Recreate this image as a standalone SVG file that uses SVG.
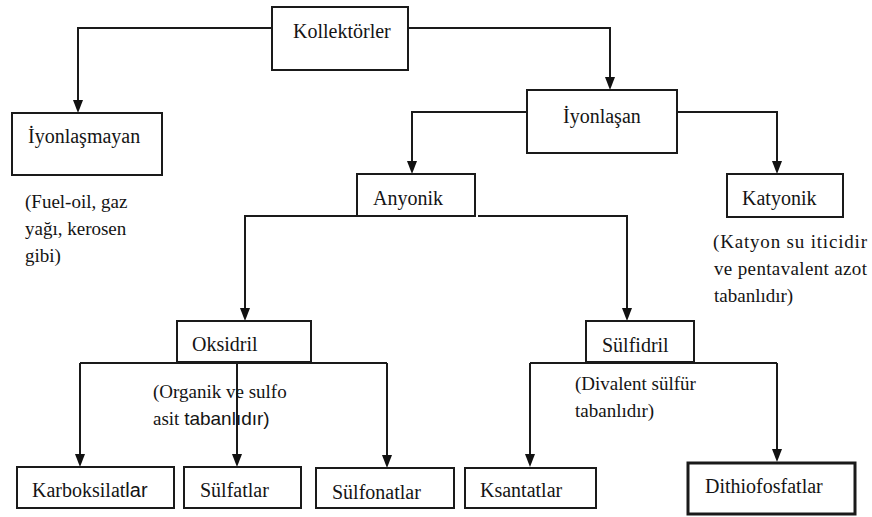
<svg xmlns="http://www.w3.org/2000/svg" width="872" height="517" viewBox="0 0 872 517">
<style>
.box{fill:#fff;stroke:#1a1a1a;stroke-width:2}
.thick{stroke-width:3}
.lbl{font-family:"Liberation Serif","Times New Roman",serif;font-size:20px;fill:#141414}
.note{font-family:"Liberation Serif","Times New Roman",serif;font-size:19px;fill:#141414}
.sans{font-family:"Liberation Sans",Arial,sans-serif}
.con{fill:none;stroke:#1a1a1a;stroke-width:2}
</style>
<defs>
<marker id="arr" markerUnits="userSpaceOnUse" markerWidth="14" markerHeight="11" refX="3" refY="5" orient="auto">
<path d="M0,0 L13,5 L0,10 z" fill="#111"/>
</marker>
</defs>
<rect width="872" height="517" fill="#fff"/>
<g id="connectors">
<path class="con" d="M272,28 H78 V103" marker-end="url(#arr)"/>
<path class="con" d="M408,28 H610 V80" marker-end="url(#arr)"/>
<path class="con" d="M527,112 H412 V164" marker-end="url(#arr)"/>
<path class="con" d="M677,112 H777 V164" marker-end="url(#arr)"/>
<path class="con" d="M357,216 H245 V311" marker-end="url(#arr)"/>
<path class="con" d="M478,216 H627 V311" marker-end="url(#arr)"/>
<path class="con" d="M80,363 H387"/>
<path class="con" d="M80,363 V457" marker-end="url(#arr)"/>
<path class="con" d="M237,362 V457" marker-end="url(#arr)"/>
<path class="con" d="M387,363 V458" marker-end="url(#arr)"/>
<path class="con" d="M530,363 H777"/>
<path class="con" d="M530,363 V457" marker-end="url(#arr)"/>
<path class="con" d="M777,363 V452" marker-end="url(#arr)"/>
</g>
<g id="kollektorler"><rect class="box" x="272" y="7" width="136" height="63"/><text class="lbl" x="293" y="38">Kollektörler</text></g>
<g id="iyonlasmayan"><rect class="box" x="12" y="113" width="150" height="62"/><text class="lbl" x="28" y="143">İyonlaşmayan</text></g>
<g id="iyonlasmayan-note"><text class="note" x="25" y="208">(Fuel-oil, gaz</text><text class="note" x="25" y="235">yağı, kerosen</text><text class="note" x="25" y="262">gibi)</text></g>
<g id="iyonlasan"><rect class="box" x="527" y="90" width="150" height="63"/><text class="lbl" x="563" y="123">İyonlaşan</text></g>
<g id="anyonik"><rect class="box" x="357" y="174" width="118" height="42"/><text class="lbl" x="373" y="205">Anyonik</text></g>
<g id="katyonik"><rect class="box" x="727" y="174" width="116" height="43"/><text class="lbl" x="742" y="205">Katyonik</text></g>
<g id="katyonik-note"><text class="note" x="713" y="248" textLength="154" lengthAdjust="spacing">(Katyon su iticidir</text><text class="note" x="714" y="275" textLength="153" lengthAdjust="spacing">ve pentavalent azot</text><text class="note" x="714" y="302">tabanlıdır)</text></g>
<g id="oksidril"><rect class="box" x="177" y="321" width="134" height="41"/><text class="lbl" x="192" y="351">Oksidril</text></g>
<g id="oksidril-note"><text class="note" x="153" y="398">(Organik ve sulfo</text><text class="note" x="153" y="425">asit <tspan class="sans">tabanlıdır)</tspan></text></g>
<g id="sulfidril"><rect class="box" x="586" y="321" width="108" height="41"/><text class="lbl" x="602" y="352">Sülfidril</text></g>
<g id="sulfidril-note"><text class="note" x="575" y="390">(Divalent sülfür</text><text class="note" x="575" y="417">tabanlıdır)</text></g>
<g id="karboksilatlar"><rect class="box" x="17" y="467" width="157" height="41"/><text class="lbl" x="32" y="497">Karboksilat<tspan class="sans">lar</tspan></text></g>
<g id="sulfatlar"><rect class="box" x="184" y="467" width="117" height="41"/><text class="lbl" x="200" y="497">Sülfatlar</text></g>
<g id="sulfonatlar"><rect class="box" x="316" y="468" width="138" height="40"/><text class="lbl" x="332" y="499">Sülfonatlar</text></g>
<g id="ksantatlar"><rect class="box" x="465" y="468" width="131" height="40"/><text class="lbl" x="480" y="497">Ksantatlar</text></g>
<g id="dithiofosfatlar"><rect class="box thick" x="688" y="463" width="167" height="51"/><text class="lbl" x="705" y="493">Dithiofosfatlar</text></g>
</svg>
